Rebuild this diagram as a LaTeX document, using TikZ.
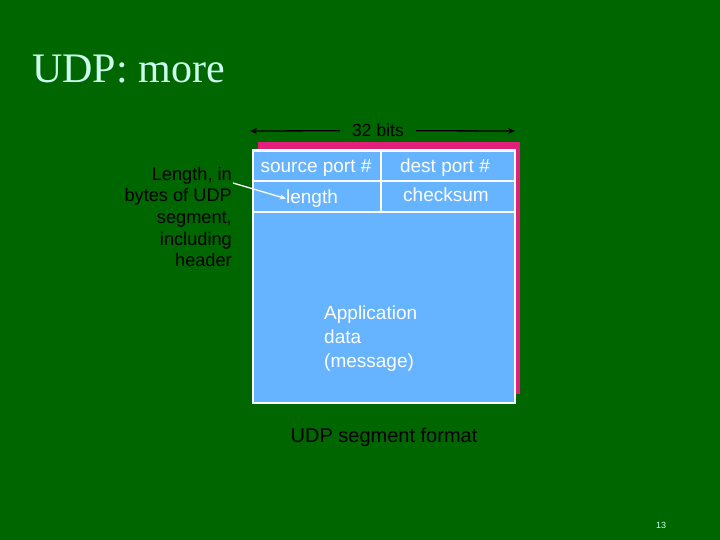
\documentclass[tikz,border=0pt]{standalone}
\usepackage{fontspec}
\setmainfont{Liberation Serif}
\setsansfont{Liberation Sans}
\usetikzlibrary{arrows.meta}
\definecolor{bggreen}{HTML}{006600}
\definecolor{boxblue}{HTML}{66B3FF}
\definecolor{shadowpink}{HTML}{E0207A}
\definecolor{titlecyan}{HTML}{CCFFEE}
\tikzset{
  celltxt/.style={text=white, font=\sffamily\fontsize{19}{22}\selectfont, inner sep=0pt},
  blktxt/.style={text=black, font=\sffamily\fontsize{18.2}{21.6}\selectfont, inner sep=0pt},
  sepline/.style={white, line width=1.6pt},
}
\begin{document}
\begin{tikzpicture}[x=1pt,y=-1pt]
\fill[bggreen] (0,0) rectangle (720,540);
\useasboundingbox (0,0) rectangle (720,540);
% title
\node[anchor=base west, inner sep=0pt, text=titlecyan, font=\fontsize{42}{48}\selectfont] (title) at (32,83) {UDP: more};
% shadow box
\fill[shadowpink] (258,142) rectangle (520,394);
% main box
\node[draw=white, line width=2.5pt, fill=boxblue, minimum width=262pt, minimum height=252pt, anchor=north west, inner sep=0pt] (seg) at (251.5,149.5) {};
\draw[sepline] (seg.north west |- 0,181) -- (seg.north east |- 0,181);
\draw[sepline] (seg.north west |- 0,212) -- (seg.north east |- 0,212);
\draw[sepline] (381,149.5) -- (381,212);
% cells
\node[celltxt, anchor=base] (src) at (316,172.5) {source port \#};
\node[celltxt, anchor=base] (dst) at (445,172.5) {dest port \#};
\node[celltxt, anchor=base] (len) at (312,203.5) {length};
\node[celltxt, anchor=base] (chk) at (446,202) {checksum};
\node[celltxt, anchor=north west, align=left, font=\sffamily\fontsize{19}{24}\selectfont] (app) at (324,306) {Application\\data\\(message)};
% 32 bits
\node[blktxt, font=\sffamily\fontsize{17.5}{20}\selectfont, anchor=base] (bits) at (378,137) {32 bits};
\coordinate (bl) at (250,131);
\coordinate (br) at (515,131);
\draw[black, line width=1.3pt, -{Stealth[length=7pt,width=6pt]}] (bits.west) ++(-12pt,0) -- (bl);
\draw[black, line width=1.3pt, -{Stealth[length=7pt,width=6pt]}] (bits.east) ++(12pt,0) -- (br);
% left annotation
\node[blktxt, anchor=north east, align=right] (lenlbl) at (232,167) {Length, in\\bytes of UDP\\segment,\\including\\header};
\coordinate (lstart) at (233,183);
\draw[white, line width=1.3pt, -{Stealth[length=6pt,width=5pt]}] (lstart) -- (len.west);
% caption
\node[blktxt, font=\sffamily\fontsize{20}{24}\selectfont, anchor=base] (cap) at (384,442) {UDP segment format};
% page number
\node[text=titlecyan, font=\sffamily\fontsize{9}{10}\selectfont, anchor=base] (pg) at (661,528) {13};
\end{tikzpicture}
\end{document}
